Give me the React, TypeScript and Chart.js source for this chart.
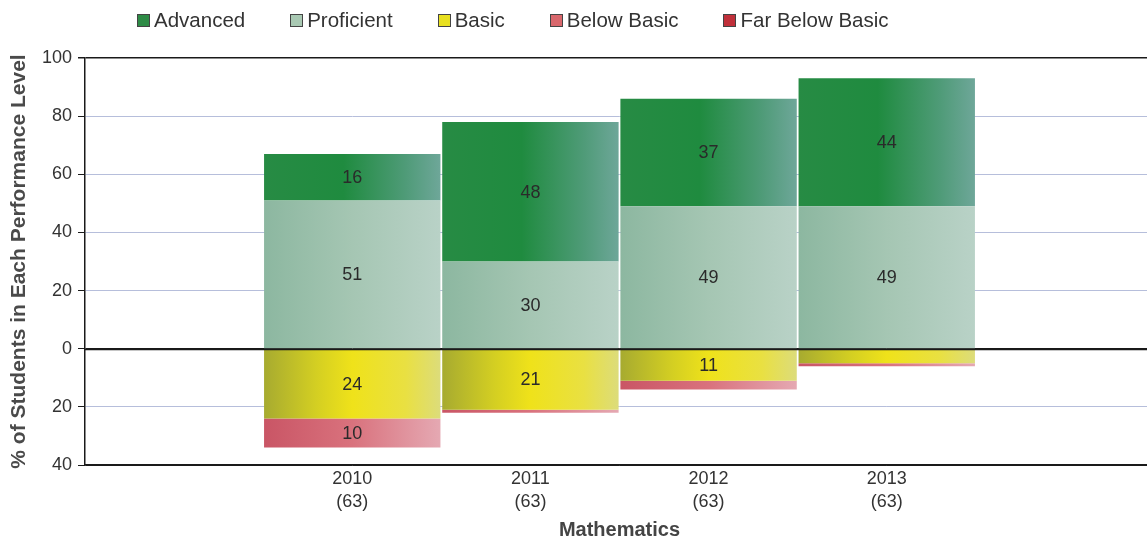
import React, { useEffect, useRef } from 'react';
import { Chart, registerables } from 'chart.js';

Chart.register(...registerables);

const FONT = '"Liberation Sans", Arial, Helvetica, sans-serif';

// Categories (empty slots at both ends, as in the original layout)
const years = ['', '2010', '2011', '2012', '2013', ''];
const counts = ['', '(63)', '(63)', '(63)', '(63)', ''];

// Percentages per performance level
const advanced = [null, 16, 48, 37, 44, null];
const proficient = [null, 51, 30, 49, 49, null];
const basic = [null, 24, 21, 11, 5, null];
const belowBasic = [null, 10, 1, 3, 1, null];
const farBelowBasic = [null, 0, 0, 0, 0, null];

const yTicks = [-40, -20, 0, 20, 40, 60, 80, 100];

const legendItems = [
  { label: 'Advanced', color: '#2e8b46' },
  { label: 'Proficient', color: '#a9c9b3' },
  { label: 'Basic', color: '#e8e020' },
  { label: 'Below Basic', color: '#d9676c' },
  { label: 'Far Below Basic', color: '#c0303a' },
];

type Stop = [number, string];

function hGrad(stops: Stop[], solid: string) {
  return (c: any) => {
    if (c.type !== 'data' || c.dataIndex == null) return solid;
    const chart = c.chart;
    const xs = chart.scales && chart.scales.x;
    if (!xs) return solid;
    const cx = xs.getPixelForValue(c.dataIndex);
    const w = xs.width / years.length;
    if (!isFinite(cx) || !(w > 0)) return solid;
    const g = chart.ctx.createLinearGradient(cx - w / 2, 0, cx + w / 2, 0);
    stops.forEach(([o, col]) => g.addColorStop(o, col));
    return g;
  };
}

const neg = (arr: (number | null)[]) => arr.map((v) => (v == null ? null : -v));

const overlay = {
  id: 'overlay',
  afterDatasetsDraw(chart: any) {
    const { ctx, chartArea } = chart;
    const ys = chart.scales.y;
    ctx.save();
    // zero line drawn over bars
    const yz = Math.round(ys.getPixelForValue(0)) + 0.5;
    ctx.strokeStyle = '#1a1a1a';
    ctx.lineWidth = 1.5;
    ctx.beginPath();
    ctx.moveTo(chartArea.left, yz);
    ctx.lineTo(chartArea.right, yz);
    ctx.stroke();
    // value labels
    ctx.font = '18px ' + FONT;
    ctx.fillStyle = '#2a2a2a';
    ctx.textAlign = 'center';
    ctx.textBaseline = 'middle';
    chart.data.datasets.forEach((ds: any, di: number) => {
      const meta = chart.getDatasetMeta(di);
      meta.data.forEach((el: any, i: number) => {
        const v = ds.data[i];
        if (v == null || Math.abs(v) < 10) return;
        const p = el.getProps(['x', 'y', 'base'], true);
        ctx.fillText(String(Math.abs(v)), p.x, (p.y + p.base) / 2 + 1);
      });
    });
    ctx.restore();
  },
};

export default function App() {
  const canvasRef = useRef<HTMLCanvasElement | null>(null);

  useEffect(() => {
    document.body.style.margin = '0';
    const canvas = canvasRef.current;
    if (!canvas) return;
    const labels = years.map((y, i) => (y ? [y, counts[i]] : ''));
    const chart = new Chart(canvas, {
      type: 'bar',
      data: {
        labels,
        datasets: [
          {
            label: 'Proficient',
            data: proficient,
            backgroundColor: hGrad(
              [[0, '#8cb7a0'], [0.5, '#a5c6b3'], [1, '#b9d2c7']],
              '#a9c9b3'
            ),
          },
          {
            label: 'Advanced',
            data: advanced,
            backgroundColor: hGrad(
              [[0, '#278b44'], [0.45, '#1f8b3f'], [0.8, '#4f9b78'], [1, '#6fa79a']],
              '#2e8b46'
            ),
          },
          {
            label: 'Basic',
            data: neg(basic),
            backgroundColor: hGrad(
              [[0, '#a6aa30'], [0.3, '#d4cf22'], [0.5, '#efe21a'], [0.8, '#e9e042'], [1, '#dcdc7c']],
              '#e8e020'
            ),
          },
          {
            label: 'Below Basic',
            data: neg(belowBasic),
            backgroundColor: hGrad(
              [[0, '#c95565'], [0.5, '#d9727d'], [1, '#e5a9b3']],
              '#d9676c'
            ),
          },
          {
            label: 'Far Below Basic',
            data: neg(farBelowBasic),
            backgroundColor: '#c0303a',
          },
        ] as any,
      },
      options: {
        animation: false,
        responsive: false,
        maintainAspectRatio: false,
        events: [],
        layout: { padding: { top: 58, left: 0, right: 0, bottom: 0 } },
        datasets: { bar: { barPercentage: 0.99, categoryPercentage: 1 } } as any,
        plugins: {
          legend: { display: false },
          tooltip: { enabled: false },
        },
        scales: {
          x: {
            stacked: true,
            grid: { display: false, drawTicks: false },
            border: { color: '#1a1a1a', width: 1.5 },
            ticks: {
              autoSkip: false,
              maxRotation: 0,
              padding: 2,
              color: '#333',
              font: { family: FONT, size: 18, lineHeight: 1.3 },
            },
            title: {
              display: true,
              text: 'Mathematics',
              color: '#444',
              font: { family: FONT, size: 20, weight: 'bold' },
              padding: { top: 0, bottom: 0 },
            },
            afterFit: (s: any) => {
              s.height = 77;
            },
          },
          y: {
            stacked: true,
            min: -40,
            max: 100,
            afterBuildTicks: (s: any) => {
              s.ticks = yTicks.map((v) => ({ value: v }));
            },
            ticks: {
              padding: 6,
              color: '#333',
              font: { family: FONT, size: 18 },
              callback: (v: any) => String(Math.abs(Number(v))),
            },
            grid: {
              color: (c: any) => {
                const v = c.tick && c.tick.value;
                return v === 100 || v === 0 || v === -40 ? '#1a1a1a' : '#b6bedb';
              },
              lineWidth: (c: any) => {
                const v = c.tick && c.tick.value;
                return v === 100 ? 1.5 : 1;
              },
              tickColor: '#1a1a1a',
              tickLength: 7,
            },
            border: { color: '#1a1a1a', width: 1.5 },
            title: {
              display: true,
              text: '% of Students in Each Performance Level',
              color: '#4a4a4a',
              font: { family: FONT, size: 21, weight: 'bold' },
              padding: { top: 7, bottom: 0 },
            },
            afterFit: (s: any) => {
              s.width = 85;
            },
          },
        },
      },
      plugins: [overlay],
    });
    return () => chart.destroy();
  }, []);

  return (
    <div style={{ position: 'relative', width: 1147, height: 542, overflow: 'hidden', background: '#fff' }}>
      <canvas ref={canvasRef} width={1154} height={542} style={{ display: 'block' }} />
      <div
        style={{
          position: 'absolute',
          left: 137,
          top: 8,
          display: 'flex',
          alignItems: 'center',
          gap: 45,
          fontFamily: FONT,
          fontSize: 20.5,
          color: '#333',
          lineHeight: '24px',
          whiteSpace: 'nowrap',
        }}
      >
        {legendItems.map((it) => (
          <div key={it.label} style={{ display: 'flex', alignItems: 'center' }}>
            <span
              style={{
                display: 'inline-block',
                width: 11,
                height: 11,
                background: it.color,
                border: '1px solid #444',
                marginRight: 4,
              }}
            />
            <span>{it.label}</span>
          </div>
        ))}
      </div>
    </div>
  );
}
